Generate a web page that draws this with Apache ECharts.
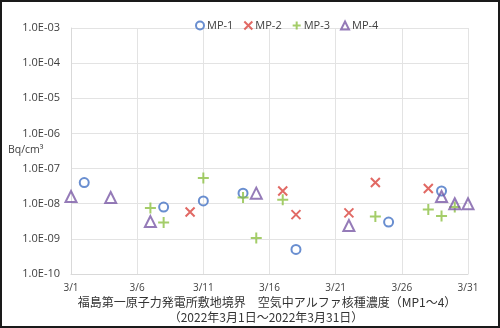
<!DOCTYPE html>
<html>
<head>
<meta charset="utf-8">
<script src="https://cdn.jsdelivr.net/npm/echarts@6/dist/echarts.min.js"></script>
<style>
  html, body { margin: 0; padding: 0; background: #fff; }
  #frame { position: absolute; left: 0; top: 0; width: 496px; height: 324px; border: 2px solid #1a1a1a; }
  #chart { width: 500px; height: 328px; position: absolute; left: 0; top: 0; }
</style>
</head>
<body>
<div id="chart"></div>
<div id="frame"></div>
<script>
// Daily alpha-nuclide concentrations (Bq/cm³), March 2022, by monitoring post
const seriesNames = ['MP-1', 'MP-2', 'MP-3', 'MP-4'];
const mp1Days = [2, 8, 11, 14, 18, 25, 29];
const mp1Vals = [4.0e-8, 8.0e-9, 1.2e-8, 2.0e-8, 5.0e-10, 3.0e-9, 2.3e-8];
const mp2Days = [10, 17, 18, 22, 24, 28];
const mp2Vals = [5.8e-9, 2.3e-8, 4.9e-9, 5.5e-9, 4.0e-8, 2.7e-8];
const mp3Days = [7, 8, 11, 14, 15, 17, 24, 28, 29, 30];
const mp3Vals = [7.5e-9, 2.9e-9, 5.4e-8, 1.5e-8, 1.05e-9, 1.3e-8, 4.3e-9, 6.8e-9, 4.5e-9, 8.0e-9];
const mp4Days = [1, 4, 7, 15, 22, 29, 30, 31];
const mp4Vals = [1.6e-8, 1.5e-8, 3.1e-9, 2.0e-8, 2.4e-9, 1.6e-8, 1.0e-8, 1.0e-8];

const dayTicks = ['3/1', '3/6', '3/11', '3/16', '3/21', '3/26', '3/31'];
const yMin = 1e-10, yMax = 1e-3;

const titleLine1 = '福島第一原子力発電所敷地境界　空気中アルファ核種濃度（MP1～4）';
const titleLine2 = '（2022年3月1日～2022年3月31日）';
const unitLabel = 'Bq/cm³';

const colors = ['#4472C4', '#D9433D', '#8DC044', '#7B5AA6'];
const symbols = [
  'circle',
  'path://M0,0L10,10M10,0L0,10',
  'path://M5,0L5,10M0,5L10,5',
  'triangle'
];
const sizes = [9, 9, 11, 11];

// x runs as day offset from 3/1 so the 5-day ticks start at 0
const toPoints = (days, vals) => days.map((d, i) => [d - 1, vals[i]]);
const allData = [
  toPoints(mp1Days, mp1Vals),
  toPoints(mp2Days, mp2Vals),
  toPoints(mp3Days, mp3Vals),
  toPoints(mp4Days, mp4Vals)
];

function sciLabel(v) {
  const e = Math.round(Math.log10(v));
  const sign = e < 0 ? '-' : '+';
  const a = Math.abs(e);
  return '1.0E' + sign + (a < 10 ? '0' + a : String(a));
}

const font = '"Open Sans", "Noto Sans", sans-serif';
const chart = echarts.init(document.getElementById('chart'));

chart.setOption({
  animation: false,
  legend: {
    left: 190,
    top: 15,
    itemWidth: 8,
    itemHeight: 8,
    itemGap: 10,
    textStyle: { fontSize: 11, color: '#404040', fontFamily: font, padding: [0, 0, 0, -2] },
    data: seriesNames
  },
  grid: { left: 71, right: 32, top: 28, bottom: 54 },
  xAxis: {
    type: 'value',
    min: 0,
    max: 30,
    interval: 5,
    axisLine: { show: true, lineStyle: { color: '#d9d9d9' } },
    axisTick: { show: false },
    splitLine: { show: true, lineStyle: { color: '#e3e3e3' } },
    axisLabel: {
      fontSize: 10,
      color: '#404040',
      fontFamily: font,
      margin: 9,
      formatter: v => dayTicks[Math.round(v / 5)] || ''
    }
  },
  yAxis: {
    type: 'log',
    logBase: 10,
    min: yMin,
    max: yMax,
    axisLine: { show: true, lineStyle: { color: '#d9d9d9' } },
    axisTick: { show: false },
    splitLine: { show: true, lineStyle: { color: '#e3e3e3' } },
    axisLabel: {
      fontSize: 11,
      color: '#404040',
      fontFamily: font,
      margin: 11,
      formatter: sciLabel
    }
  },
  graphic: [
    {
      type: 'text', left: 8, top: 145,
      style: { text: unitLabel, fontSize: 10.5, fill: '#404040', fontFamily: font }
    },
    {
      type: 'text', x: 267, y: 302,
      style: { text: titleLine1, fontSize: 12, fill: '#333', fontFamily: '"Noto Sans CJK JP", sans-serif', align: 'center', verticalAlign: 'middle' }
    },
    {
      type: 'text', x: 266, y: 317,
      style: { text: titleLine2, fontSize: 12, fill: '#333', fontFamily: '"Noto Sans CJK JP", sans-serif', align: 'center', verticalAlign: 'middle' }
    }
  ],
  series: seriesNames.map((name, i) => ({
    name,
    type: 'scatter',
    data: allData[i],
    symbol: symbols[i],
    symbolSize: sizes[i],
    itemStyle: {
      color: 'rgba(0,0,0,0)',
      borderColor: colors[i],
      borderWidth: 2
    },
    z: 2 + i
  }))
});
</script>
</body>
</html>
